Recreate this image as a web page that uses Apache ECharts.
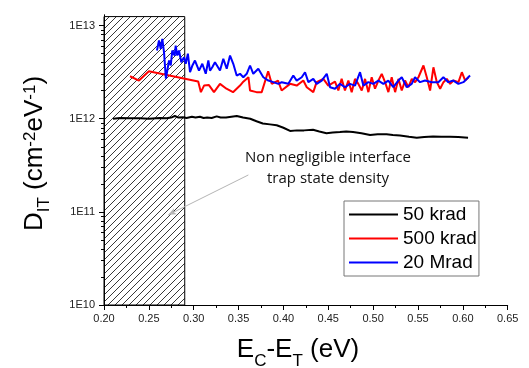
<!DOCTYPE html>
<html><head><meta charset="utf-8">
<script src="https://cdn.jsdelivr.net/npm/echarts@6/dist/echarts.min.js"></script>
<style>html,body{margin:0;padding:0;background:#fff}#c{width:529px;height:368px}</style>
</head><body><div id="c"></div>
<script>
// ---- data (x in eV, y in units of 1E12 cm^-2 eV^-1) ----
const seriesNames = ['50 krad', '500 krad', '20 Mrad'];
const xBlack = [0.210,0.218,0.228,0.240,0.250,0.262,0.270,0.276,0.279,0.283,0.288,0.292,0.298,0.302,0.307,0.311,0.315,0.320,0.3256,0.330,0.336,0.342,0.348,0.355,0.363,0.370,0.377,0.385,0.3925,0.400,0.4074,0.415,0.423,0.433,0.440,0.448,0.455,0.463,0.470,0.4776,0.487,0.4966,0.505,0.515,0.522,0.530,0.540,0.5486,0.557,0.5668,0.576,0.5857,0.595,0.6058];
const yBlackE12 = [1.00,1.02,1.01,1.01,1.00,1.02,1.01,1.04,1.07,1.03,1.04,1.02,1.05,1.03,1.05,1.02,1.03,1.02,1.06,1.03,1.03,1.05,1.07,1.03,1.00,0.94,0.89,0.87,0.85,0.80,0.74,0.75,0.75,0.76,0.73,0.70,0.71,0.72,0.73,0.72,0.70,0.67,0.68,0.68,0.67,0.66,0.64,0.625,0.635,0.645,0.64,0.64,0.635,0.625];
const xRed = [0.229,0.239,0.250,0.305,0.308,0.3115,0.3170,0.3226,0.3293,0.3365,0.3438,0.3516,0.3553,0.3610,0.3628,0.3700,0.3758,0.3830,0.3870,0.3940,0.3980,0.4074,0.4148,0.4222,0.4260,0.4333,0.4370,0.4445,0.4500,0.4575,0.4612,0.4649,0.4686,0.4724,0.4761,0.4798,0.4835,0.4873,0.4910,0.4947,0.4984,0.5021,0.5059,0.5096,0.5133,0.5170,0.5207,0.5245,0.5282,0.5319,0.5356,0.5393,0.5431,0.5468,0.5505,0.5561,0.5598,0.5635,0.5672,0.5710,0.5747,0.5784,0.5821,0.5858,0.5896,0.5951,0.5989,0.6026,0.6063];
const yRedE12 = [2.86,2.57,3.24,2.51,1.93,2.27,2.30,1.93,2.37,2.10,1.93,2.27,2.50,2.79,2.01,1.93,1.93,3.24,2.37,2.57,2.01,2.37,2.27,2.57,2.18,1.93,2.47,2.68,2.27,2.50,2.01,2.68,2.01,2.57,1.93,2.68,2.37,2.01,2.68,1.93,2.79,2.10,2.57,3.03,2.47,1.93,2.79,1.93,2.68,2.01,2.57,2.18,2.68,2.47,2.79,3.73,2.79,2.01,3.57,2.47,2.10,2.47,2.68,2.37,2.57,2.47,3.16,2.57,2.79];
const xBlue = [0.2590,0.2613,0.2632,0.2650,0.2669,0.2690,0.2725,0.2744,0.2761,0.2788,0.2799,0.2817,0.2836,0.2862,0.2892,0.2911,0.2935,0.2959,0.2984,0.3014,0.3059,0.3096,0.3134,0.3163,0.3182,0.3207,0.3237,0.3256,0.3293,0.3330,0.3368,0.3405,0.3441,0.3479,0.3516,0.3553,0.3591,0.3628,0.3664,0.3720,0.3776,0.3832,0.3887,0.3943,0.3981,0.4055,0.4110,0.4148,0.4204,0.4241,0.4278,0.4333,0.4371,0.4427,0.4483,0.4520,0.4575,0.4631,0.4687,0.4742,0.4798,0.4854,0.4891,0.4946,0.5002,0.5058,0.5114,0.5169,0.5225,0.5281,0.5319,0.5375,0.5430,0.5467,0.5523,0.5579,0.5653,0.5727,0.5783,0.5838,0.5894,0.5950,0.6006,0.6044,0.6080];
const yBlueE12 = [5.4,6.91,5.63,7.20,5.17,2.70,4.22,3.73,5.40,4.77,6.10,4.77,5.40,4.04,4.57,3.89,5.0,3.16,3.70,4.22,3.29,3.89,3.04,4.22,3.29,3.57,4.04,4.22,3.29,4.40,3.44,4.77,3.89,2.91,3.04,2.79,3.04,3.73,3.04,3.44,2.79,2.57,2.47,2.37,2.47,2.37,2.91,2.57,2.79,3.16,2.47,2.68,2.37,2.57,3.04,2.18,2.10,2.37,2.18,2.37,2.27,3.16,2.27,2.47,2.37,2.57,2.37,2.57,2.18,2.57,2.79,2.18,2.37,2.79,2.47,2.57,2.47,2.47,2.79,2.47,2.57,2.37,2.47,2.68,2.91];
const yMajorTicks = [1e10, 1e11, 1e12, 1e13];
const yMinorTicks = [2e10,3e10,4e10,5e10,6e10,7e10,8e10,9e10,2e11,3e11,4e11,5e11,6e11,7e11,8e11,9e11,2e12,3e12,4e12,5e12,6e12,7e12,8e12,9e12];
const hatchRegion = { x0: 0.20, x1: 0.29, y0: 1e10, y1: 1.25e13 };
const arrowFrom = [0.3609, 2.49e11];
const arrowTo = [0.2717, 9.3e10];
const annotationLines = ['Non negligible interface', 'trap state density'];

const E12 = 1e12;
const zip = (xs, ys) => xs.map((x, i) => [x, ys[i] * E12]);

// hatch pattern
const pat = document.createElement('canvas');
pat.width = 7; pat.height = 7;
const pc = pat.getContext('2d');
pc.fillStyle = '#fff'; pc.fillRect(0, 0, 7, 7);
pc.strokeStyle = '#222'; pc.lineWidth = 0.9;
pc.beginPath();
pc.moveTo(0, 7); pc.lineTo(7, 0);
pc.moveTo(-1, 1); pc.lineTo(1, -1);
pc.moveTo(6, 8); pc.lineTo(8, 6);
pc.stroke();

const FONT = 'Liberation Sans, Arial, sans-serif';
const GRID = { left: 104, right: 21.3, top: 15, bottom: 63 };
const X_MIN = 0.20, X_MAX = 0.65, Y_MIN = 1e10, Y_MAX = 1.3e13;
// decoration axes (tick marks only) laid out in decades, matching the log axis
const LOG_MIN = Math.log10(Y_MIN), LOG_MAX = Math.log10(Y_MAX);
const majorPos = yMajorTicks.map(v => Math.log10(v));
const minorPos = yMinorTicks.map(v => Math.log10(v));

const chart = echarts.init(document.getElementById('c'), null, { renderer: 'canvas' });
chart.setOption({
  animation: false,
  backgroundColor: '#fff',
  grid: [Object.assign({}, GRID), Object.assign({}, GRID), Object.assign({}, GRID)],
  xAxis: [{
    gridIndex: 0, type: 'value', min: X_MIN, max: X_MAX, interval: 0.05, z: 20,
    axisLine: { onZero: false, lineStyle: { color: '#000', width: 1 } },
    axisTick: { length: 5, lineStyle: { color: '#000' } },
    minorTick: { show: true, splitNumber: 2, length: 3, lineStyle: { color: '#000' } },
    splitLine: { show: false },
    axisLabel: { fontSize: 11, fontFamily: FONT, color: '#222', margin: 8, formatter: v => v.toFixed(2) }
  },
  { gridIndex: 1, type: 'value', min: X_MIN, max: X_MAX, show: false },
  { gridIndex: 2, type: 'value', min: X_MIN, max: X_MAX, show: false }],
  yAxis: [{
    gridIndex: 0, type: 'log', logBase: 10, min: Y_MIN, max: Y_MAX, z: 20,
    splitLine: { show: false },
    axisLine: { show: true, onZero: false, lineStyle: { color: '#000', width: 1 } },
    axisTick: { show: false },
    axisLabel: { show: false }
  }, {
    gridIndex: 1, type: 'value', min: LOG_MIN, max: LOG_MAX, z: 30,
    splitLine: { show: false },
    axisLine: { show: true, onZero: false, lineStyle: { color: '#000', width: 1 } },
    axisTick: { show: true, length: 5, customValues: majorPos, lineStyle: { color: '#000' } },
    axisLabel: { customValues: majorPos, fontSize: 11, fontFamily: FONT, color: '#222', margin: 9,
      formatter: v => '1E' + Math.round(v) }
  }, {
    gridIndex: 2, type: 'value', min: LOG_MIN, max: LOG_MAX, z: 30,
    splitLine: { show: false },
    axisLine: { show: false },
    axisTick: { show: true, length: 3, customValues: minorPos, lineStyle: { color: '#000' } },
    axisLabel: { show: false }
  }],
  legend: {
    orient: 'vertical', left: 344, top: 201, padding: [4, 2, 4, 5], itemGap: 5,
    itemWidth: 49, itemHeight: 2, icon: 'rect',
    borderColor: '#777', borderWidth: 1, backgroundColor: '#fff',
    textStyle: { fontSize: 19, fontFamily: FONT, color: '#000' },
    data: seriesNames
  },
  series: [
    {
      type: 'line', name: '_region', data: [], z: 1, silent: true,
      markArea: {
        silent: true,
        itemStyle: { color: { image: pat, repeat: 'repeat' }, borderColor: '#000', borderWidth: 1 },
        data: [[{ xAxis: hatchRegion.x0, yAxis: hatchRegion.y0 }, { xAxis: hatchRegion.x1, yAxis: hatchRegion.y1 }]]
      },
      markLine: {
        silent: true, animation: false,
        label: { show: false },
        lineStyle: { color: '#b5b5b5', width: 1, type: 'solid' },
        data: [[
          { coord: arrowFrom, symbol: 'none' },
          { coord: arrowTo, symbol: 'arrow', symbolSize: [5, 8], itemStyle: { color: '#000' } }
        ]]
      }
    },
    { type: 'line', name: seriesNames[0], data: zip(xBlack, yBlackE12), z: 5, color: '#000', symbol: 'none', lineStyle: { width: 2, color: '#000' } },
    { type: 'line', name: seriesNames[1], data: zip(xRed, yRedE12), z: 6, color: '#ff0000', symbol: 'none', lineStyle: { width: 2, color: '#ff0000' } },
    { type: 'line', name: seriesNames[2], data: zip(xBlue, yBlueE12), z: 7, color: '#0000ff', symbol: 'none', lineStyle: { width: 2, color: '#0000ff' } }
  ],
  graphic: [
    {
      type: 'text', x: 44, y: 153.5, rotation: Math.PI / 2, silent: true,
      style: {
        text: '{m|D}{s|IT}{m| (cm}{p|-2}{m|eV}{p|-1}{m|)}',
        align: 'center', verticalAlign: 'middle', fill: '#000',
        rich: {
          m: { fontSize: 26, fontFamily: FONT, lineHeight: 26, verticalAlign: 'top', fill: '#000' },
          s: { fontSize: 17, fontFamily: FONT, lineHeight: 44, fill: '#000' },
          p: { fontSize: 17, fontFamily: FONT, lineHeight: 15, verticalAlign: 'top', fill: '#000' }
        }
      }
    },
    {
      type: 'text', x: 298, y: 361, silent: true,
      style: {
        text: '{m|E}{s|C}{m|-E}{s|T}{m| (eV)}',
        align: 'center', verticalAlign: 'middle', fill: '#000',
        rich: {
          m: { fontSize: 26, fontFamily: FONT, lineHeight: 24, verticalAlign: 'top', fill: '#000' },
          s: { fontSize: 17, fontFamily: FONT, lineHeight: 48, fill: '#000' }
        }
      }
    },
    {
      type: 'text', x: 328, y: 158, silent: true,
      style: { text: annotationLines[0], align: 'center', verticalAlign: 'middle', fontSize: 15, fontFamily: 'Open Sans, Noto Sans, sans-serif', fill: '#111' }
    },
    {
      type: 'text', x: 328, y: 179, silent: true,
      style: { text: annotationLines[1], align: 'center', verticalAlign: 'middle', fontSize: 15, fontFamily: 'Open Sans, Noto Sans, sans-serif', fill: '#111' }
    }
  ]
});
</script>
</body></html>
